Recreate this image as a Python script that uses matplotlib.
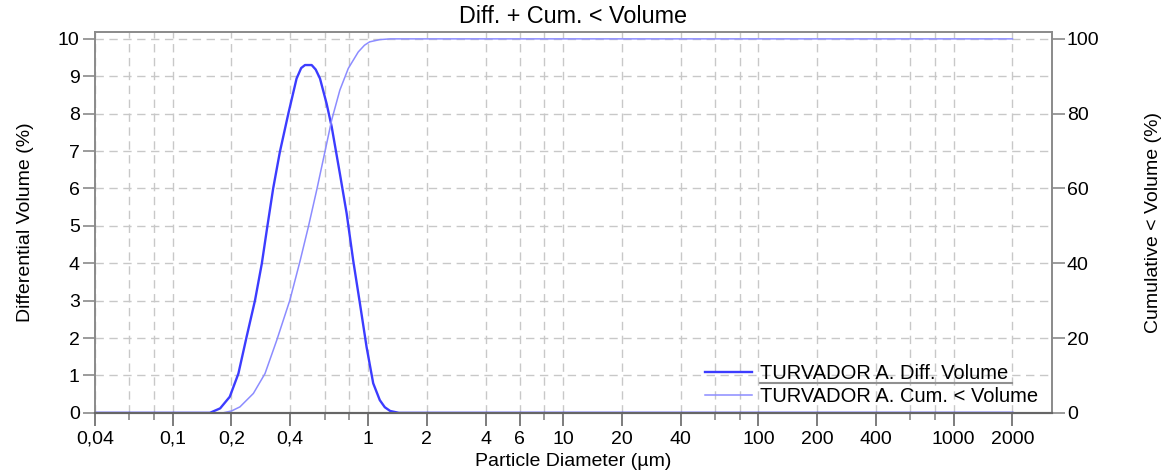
import matplotlib.pyplot as plt
from matplotlib.lines import Line2D
from matplotlib.ticker import FixedLocator, NullFormatter

plt.rcParams['font.family'] = ['Liberation Sans', 'DejaVu Sans']
plt.rcParams['font.size'] = 14

# ---------------- data ----------------
diff_size = [0.04, 0.155, 0.175, 0.196, 0.217, 0.239, 0.264, 0.286, 0.305, 0.327, 0.354,
             0.391, 0.431, 0.455, 0.476, 0.515, 0.540, 0.568, 0.614, 0.652, 0.718, 0.778,
             0.84, 0.91, 0.984, 1.064, 1.15, 1.22, 1.30, 1.44, 2000]
diff_vol = [0, 0, 0.12, 0.43, 1.05, 2.03, 3.01, 3.99, 4.97, 6.0, 6.98,
            8.0, 8.94, 9.22, 9.30, 9.30, 9.18, 8.94, 8.27, 7.65, 6.40, 5.33,
            4.08, 2.92, 1.76, 0.79, 0.34, 0.15, 0.05, 0, 0]

cum_size = [0.04, 0.181, 0.200, 0.221, 0.259, 0.297, 0.341, 0.398, 0.448, 0.495, 0.546,
            0.602, 0.652, 0.718, 0.793, 0.892, 0.96, 1.02, 1.15, 1.3, 2000]
cum_vol = [0, 0, 0.5, 1.6, 5.2, 10.5, 19.4, 30.1, 40.4, 49.7, 59.5,
           69.8, 78.3, 86.3, 92.1, 96.5, 98.3, 99.2, 99.8, 100, 100]

major_ticks = [0.04, 0.1, 0.2, 0.4, 1, 2, 4, 6, 10, 20, 40, 100, 200, 400, 1000, 2000]
major_labels = ["0,04", "0,1", "0,2", "0,4", "1", "2", "4", "6", "10", "20", "40",
                "100", "200", "400", "1000", "2000"]
minor_ticks = [0.06, 0.08, 0.6, 0.8, 8, 60, 80, 600, 800]

DIFF_COLOR = "#3c3cff"
CUM_COLOR = "#8c8cff"
SPINE = "#8a8a8a"
GRID = "#c8c8c8"

# ---------------- figure ----------------
fig = plt.figure(figsize=(11.7, 4.74), dpi=100)
ax = fig.add_axes([0.0812, 0.129, 0.8177, 0.804])
ax2 = ax.twinx()

ax.set_xscale("log")
ax.set_xlim(0.04, 3177)
ax.set_ylim(0, 10.19)
ax2.set_ylim(0, 101.9)

ax.xaxis.set_major_locator(FixedLocator(major_ticks))
ax.set_xticklabels(major_labels)
ax.xaxis.set_minor_locator(FixedLocator(minor_ticks))
ax.xaxis.set_minor_formatter(NullFormatter())
ax.set_yticks(range(0, 11))
ax2.set_yticks(range(0, 101, 20))

ax.grid(True, which="both", axis="x", color=GRID, linestyle=(0, (6, 4)), linewidth=1)
ax.grid(True, which="major", axis="y", color=GRID, linestyle=(0, (6, 4)), linewidth=1)
ax.set_axisbelow(True)

# diff values live on the left scale (0-10) -> x10 to share the right axis
l1, = ax2.plot(diff_size, [v * 10 for v in diff_vol], color=DIFF_COLOR, lw=1.7,
               label="TURVADOR A. Diff. Volume")
l2, = ax2.plot(cum_size, cum_vol, color=CUM_COLOR, lw=1.1,
               label="TURVADOR A. Cum. < Volume")

for a in (ax, ax2):
    for side in ("left", "right", "top"):
        a.spines[side].set_color(SPINE)
        a.spines[side].set_linewidth(1.2)
    a.spines["bottom"].set_color("#666666")
    a.spines["bottom"].set_linewidth(1.5)

ax.tick_params(axis="x", which="major", length=9, width=1.2, color="#666666", pad=4)
ax.tick_params(axis="x", which="minor", length=5, width=1.2, color="#888888")
ax.tick_params(axis="y", length=9, width=1.2, color=SPINE, pad=2)
ax2.tick_params(axis="y", length=9, width=1.2, color=SPINE, pad=2)

ax.set_xlabel("Particle Diameter (µm)", labelpad=4)
ax.set_ylabel("Differential Volume (%)", labelpad=17)
ax2.set_ylabel("Cumulative < Volume (%)", labelpad=33)
ax.set_title("Diff. + Cum. < Volume", pad=6)

leg = ax2.legend(handles=[l1, l2], loc="lower right", bbox_to_anchor=(0.996, -0.008),
                 frameon=False, borderpad=0, handlelength=2.3, handletextpad=0.4,
                 labelspacing=0.18, fontsize=14.5)
ax2.add_line(Line2D([0.695, 0.959], [0.078, 0.078], transform=ax2.transAxes,
                    color="#909090", lw=1.5))

fig.savefig("out.png", dpi=100)
